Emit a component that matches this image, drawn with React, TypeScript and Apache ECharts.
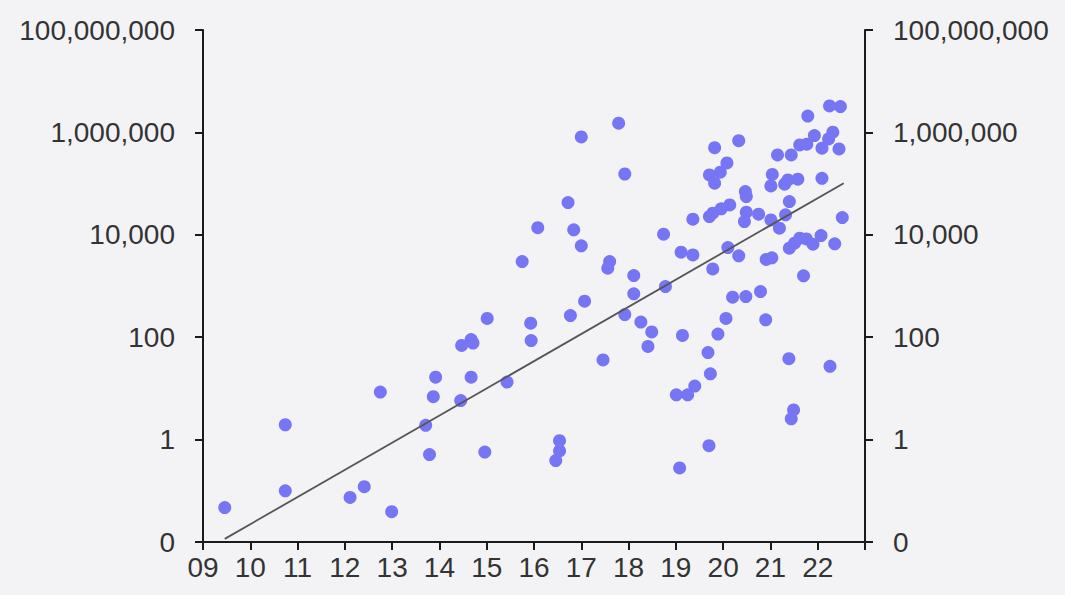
import React, { useEffect, useRef } from "react";
import * as echarts from "echarts";

const xYear = [9.46,10.74,10.74,12.11,12.41,12.75,12.99,13.71,13.79,13.87,
13.92,14.45,14.47,14.67,14.71,14.67,15.01,14.96,15.43,15.93,
15.94,16.77,17.07,17.46,16.54,16.54,16.46,17.92,18.11,18.78,
18.26,18.49,18.41,19.14,19.01,19.25,19.40,19.08,19.68,19.73,
19.70,19.89,20.06,20.20,20.48,20.79,20.90,21.39,21.49,21.44,
22.26,21.70,16.72,16.08,16.84,17.00,15.75,17.60,17.56,18.11,
18.74,19.11,19.36,19.36,17.00,17.79,17.92,20.33,19.82,20.08,
19.94,19.71,19.82,21.15,21.04,21.01,20.47,20.49,20.14,19.96,
19.78,19.71,20.49,20.45,20.75,21.01,21.19,20.10,20.33,19.78,
20.91,21.03,22.25,22.48,21.79,22.32,22.23,21.93,21.77,21.62,
22.09,22.45,21.44,22.09,21.58,21.37,21.30,21.40,21.32,22.52,
21.62,21.76,21.51,21.40,21.90,22.07,22.36];

const yVal = [0.047,1.95,0.10,0.074,0.12,8.5,0.039,1.9,0.51,6.9,
16.6,5.8,69,90,77,16.6,232,0.57,13.3,188,
86,265,506,36,0.95,0.6,0.39,277,703,975,
197,127,66,108,7.5,7.5,11.1,0.28,50,19.3,
0.76,115,232,605,622,780,218,38,3.8,2.55,
27,1580,42600,13800,12500,6080,3000,3000,2230,1600,
10300,4580,4050,20200,815000,1510000,154000,690000,504000,253000,
167000,148000,102000,363000,151000,90000,69800,55700,38400,32100,
26400,22700,27600,18100,25300,19500,13500,5640,3880,2160,
3310,3550,3280000,3190000,2090000,1010000,745000,865000,587000,569000,
491000,476000,363000,127000,122000,118000,97300,44600,24500,21700,
8590,8320,6850,5480,6560,9660,6650];

const trendX = [9.46, 22.55];
const trendY = [0.0115, 102000];

const FONT = "Liberation Sans";
const TEXT = "#333333";
const AXIS = "#1a1a1a";

function yLabel(v: number): string {
  if (v < 1) return "0";
  return Math.round(v).toLocaleString("en-US");
}

function xLabel(v: number): string {
  if (v >= 23) return "";
  return String(Math.round(v)).padStart(2, "0");
}

export default function App() {
  const ref = useRef<HTMLDivElement>(null);
  useEffect(() => {
    if (!ref.current) return;
    const chart = echarts.init(ref.current, undefined, { renderer: "svg" });
    const yAxisBase = (pos: "left" | "right") => ({
      type: "log",
      logBase: 100,
      min: 0.01,
      max: 100000000,
      position: pos,
      axisLine: { show: true, lineStyle: { color: AXIS, width: 2 } },
      axisTick: { show: true, length: 8, lineStyle: { color: AXIS, width: 2 } },
      minorTick: { show: false },
      splitLine: { show: false },
      axisLabel: {
        formatter: yLabel,
        color: TEXT,
        fontSize: 28,
        fontFamily: FONT,
        margin: 28,
      },
    });
    chart.setOption({
      animation: false,
      backgroundColor: "#f3f3f6",
      grid: { left: 203, right: 200, top: 30, bottom: 53, containLabel: false },
      xAxis: {
        type: "value",
        min: 9,
        max: 23,
        interval: 1,
        axisLine: { show: true, onZero: false, lineStyle: { color: AXIS, width: 2 } },
        axisTick: { show: true, length: 8, lineStyle: { color: AXIS, width: 2 } },
        splitLine: { show: false },
        axisLabel: {
          formatter: xLabel,
          color: TEXT,
          fontSize: 28,
          fontFamily: FONT,
          margin: 11,
          showMaxLabel: true,
        },
      },
      yAxis: [yAxisBase("left"), yAxisBase("right")],
      series: [
        {
          type: "scatter",
          data: xYear.map((x, i) => [x, yVal[i]]),
          symbolSize: 13,
          itemStyle: { color: "#7676f4", opacity: 1 },
          z: 2,
        },
        {
          type: "line",
          data: trendX.map((x, i) => [x, trendY[i]]),
          symbol: "none",
          lineStyle: { color: "#555555", width: 1.8 },
          z: 3,
        },
      ],
    });
    return () => chart.dispose();
  }, []);
  return (
    <div
      ref={ref}
      style={{ position: "fixed", left: 0, top: 0, width: 1065, height: 595 }}
    />
  );
}
